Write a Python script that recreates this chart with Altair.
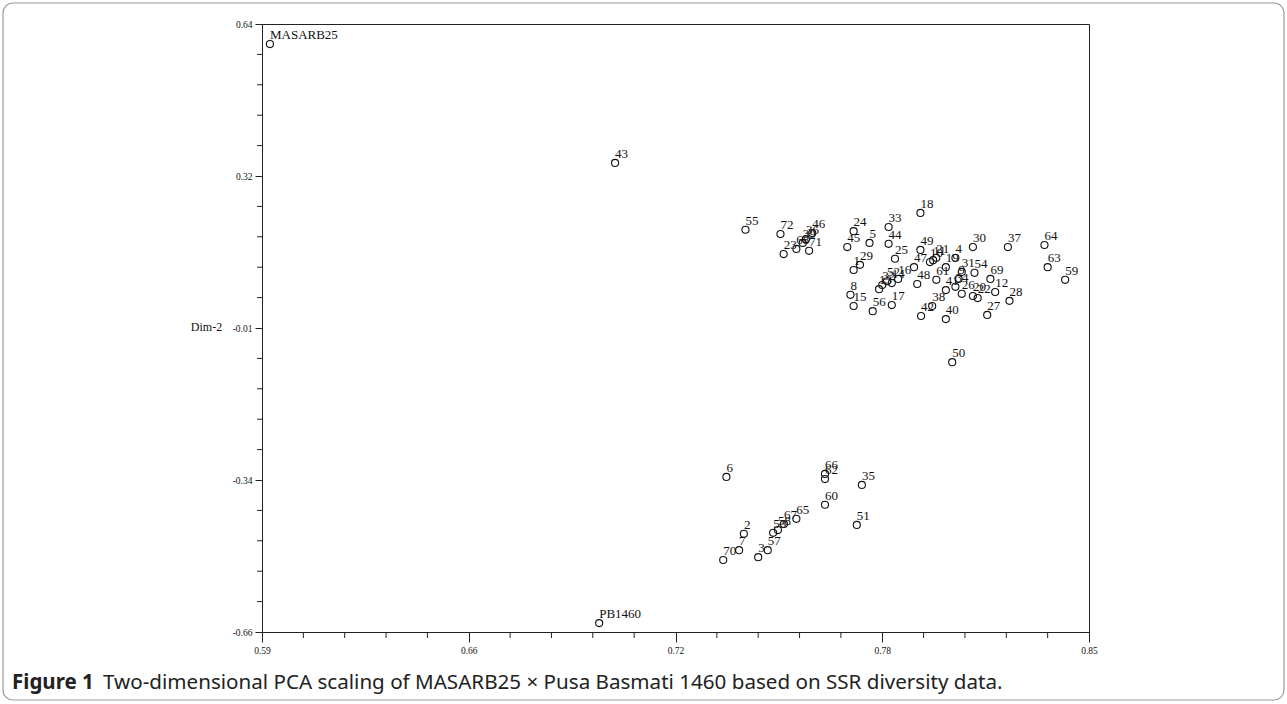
import altair as alt
import pandas as pd

# ---- data ----
labels = ["MASARB25", "43", "PB1460",
          "55", "72", "23", "68", "39", "36", "46", "71",
          "24", "45", "5", "33", "44", "25", "1", "29", "8", "15", "56", "17",
          "13", "32", "52", "14", "16",
          "18", "49", "47", "48", "10", "11", "21", "61", "19", "4",
          "30", "37", "64", "63", "59", "69", "54", "31", "41", "34", "9", "26",
          "20", "22", "12", "28", "27", "40", "38", "42", "50",
          "6", "66", "62", "35", "60", "65", "51", "2", "70", "7", "3", "57",
          "53", "58", "67"]
dim1 = [0.5925, 0.701, 0.696,
        0.742, 0.753, 0.754, 0.758, 0.760, 0.761, 0.763, 0.762,
        0.776, 0.774, 0.781, 0.787, 0.787, 0.789, 0.776, 0.778, 0.775, 0.776, 0.782, 0.788,
        0.784, 0.785, 0.7865, 0.788, 0.790,
        0.797, 0.797, 0.795, 0.796, 0.800, 0.801, 0.802, 0.802, 0.805, 0.808,
        0.8135, 0.8245, 0.836, 0.837, 0.8425, 0.819, 0.814, 0.810, 0.805, 0.808, 0.809, 0.810,
        0.8135, 0.815, 0.8205, 0.825, 0.818, 0.805, 0.8007, 0.7972, 0.807,
        0.736, 0.767, 0.767, 0.7786, 0.767, 0.758, 0.777, 0.7415, 0.735, 0.740, 0.746, 0.749,
        0.7507, 0.7522, 0.7541]
dim2 = [0.597, 0.343, -0.641,
        0.200, 0.191, 0.148, 0.159, 0.172, 0.180, 0.193, 0.155,
        0.197, 0.163, 0.172, 0.206, 0.170, 0.138, 0.114, 0.125, 0.061, 0.037, 0.026, 0.039,
        0.073, 0.082, 0.090, 0.086, 0.095,
        0.236, 0.157, 0.120, 0.084, 0.131, 0.135, 0.140, 0.093, 0.120, 0.140,
        0.163, 0.163, 0.1675, 0.120, 0.093, 0.095, 0.108, 0.110, 0.071, 0.078, 0.095, 0.063,
        0.0585, 0.054, 0.067, 0.048, 0.018, 0.009, 0.037, 0.0157, -0.083,
        -0.3285, -0.322, -0.333, -0.3456, -0.388, -0.418, -0.431, -0.450, -0.506, -0.485, -0.500, -0.485,
        -0.448, -0.442, -0.429]

x_major = [0.59, 0.655, 0.72, 0.785, 0.85]
x_major_labels = ["0.59", "0.66", "0.72", "0.78", "0.85"]
y_major = [0.64, 0.315, -0.01, -0.335, -0.66]
y_major_labels = ["0.64", "0.32", "-0.01", "-0.34", "-0.66"]
x_minor = [0.603, 0.616, 0.629, 0.642, 0.668, 0.681, 0.694, 0.707, 0.733, 0.746,
           0.759, 0.772, 0.798, 0.811, 0.824, 0.837]
y_minor = [0.575, 0.510, 0.445, 0.380, 0.250, 0.185, 0.120, 0.055, -0.075, -0.140,
           -0.205, -0.270, -0.400, -0.465, -0.530, -0.595]

caption_bold = "Figure 1"
caption_text = "Two-dimensional PCA scaling of MASARB25 \u00d7 Pusa Basmati 1460 based on SSR diversity data."

x_domain = [0.59, 0.85]
y_domain = [-0.66, 0.64]


def label_expr(values, texts):
    expr = "''"
    for v, t in reversed(list(zip(values, texts))):
        expr = f"abs(datum.value - ({v})) < 0.001 ? '{t}' : ({expr})"
    return expr


df = pd.DataFrame({"label": labels, "dim1": dim1, "dim2": dim2})

SERIF = "Liberation Serif"

xscale = alt.Scale(domain=x_domain, nice=False, zero=False)
yscale = alt.Scale(domain=y_domain, nice=False, zero=False)

xaxis = alt.Axis(values=x_major, labelExpr=label_expr(x_major, x_major_labels),
                 tickSize=10, labelPadding=3, labelFont=SERIF, labelFontSize=9.5,
                 labelColor="#111", domainColor="#222", tickColor="#222", grid=False,
                 title=None, labelFlush=False)
yaxis = alt.Axis(values=y_major, labelExpr=label_expr(y_major, y_major_labels),
                 tickSize=7, labelPadding=3, labelFont=SERIF, labelFontSize=9.5,
                 labelColor="#111", domainColor="#222", tickColor="#222", grid=False,
                 title="Dim-2", titleAngle=0, titleFont=SERIF, titleFontSize=12,
                 titleFontWeight="normal", titleColor="#111", titleX=-56, titleY=302,
                 titleAlign="center", titleBaseline="middle", labelFlush=False)

points = alt.Chart(df).mark_point(shape="circle", filled=False, size=50,
                                  stroke="#111", strokeWidth=1.1, opacity=1).encode(
    x=alt.X("dim1:Q", scale=xscale, axis=xaxis),
    y=alt.Y("dim2:Q", scale=yscale, axis=yaxis),
)

texts = alt.Chart(df).mark_text(align="left", baseline="alphabetic", dx=0, dy=-5,
                                font=SERIF, fontSize=13, color="#111").encode(
    x=alt.X("dim1:Q", scale=xscale),
    y=alt.Y("dim2:Q", scale=yscale),
    text="label:N",
)

xminor = alt.Chart(pd.DataFrame({"v": x_minor})).mark_rule(color="#222", strokeWidth=1).encode(
    x=alt.X("v:Q", scale=xscale),
    y=alt.value(608), y2=alt.value(614),
)
yminor = alt.Chart(pd.DataFrame({"v": y_minor})).mark_rule(color="#222", strokeWidth=1).encode(
    y=alt.Y("v:Q", scale=yscale),
    x=alt.value(-5), x2=alt.value(0),
)

one = pd.DataFrame({"a": [0]})
border = alt.Chart(one).mark_rect(fill=None, fillOpacity=0, stroke="#9a9a9a",
                                  strokeWidth=1.2, cornerRadius=10).encode(
    x=alt.value(-259), x2=alt.value(1022), y=alt.value(-21), y2=alt.value(676),
)
cap1 = alt.Chart(pd.DataFrame({"t": [caption_bold]})).mark_text(
    align="left", baseline="middle", font="Noto Sans", fontSize=20.5, fontWeight="bold",
    color="#222").encode(x=alt.value(-250), y=alt.value(659), text="t:N")
cap2 = alt.Chart(pd.DataFrame({"t": [caption_text]})).mark_text(
    align="left", baseline="middle", font="Noto Sans", fontSize=20.6,
    color="#222").encode(x=alt.value(-159), y=alt.value(659), text="t:N")

chart = alt.layer(border, xminor, yminor, points, texts, cap1, cap2).properties(
    width=827, height=608,
    autosize=alt.AutoSizeParams(type="none"),
    padding={"left": 262, "top": 24, "right": 198, "bottom": 72},
    background="white",
).configure_view(stroke="#222", strokeWidth=1)

chart.save("out.html", embed_options={"renderer": "svg", "actions": False})
